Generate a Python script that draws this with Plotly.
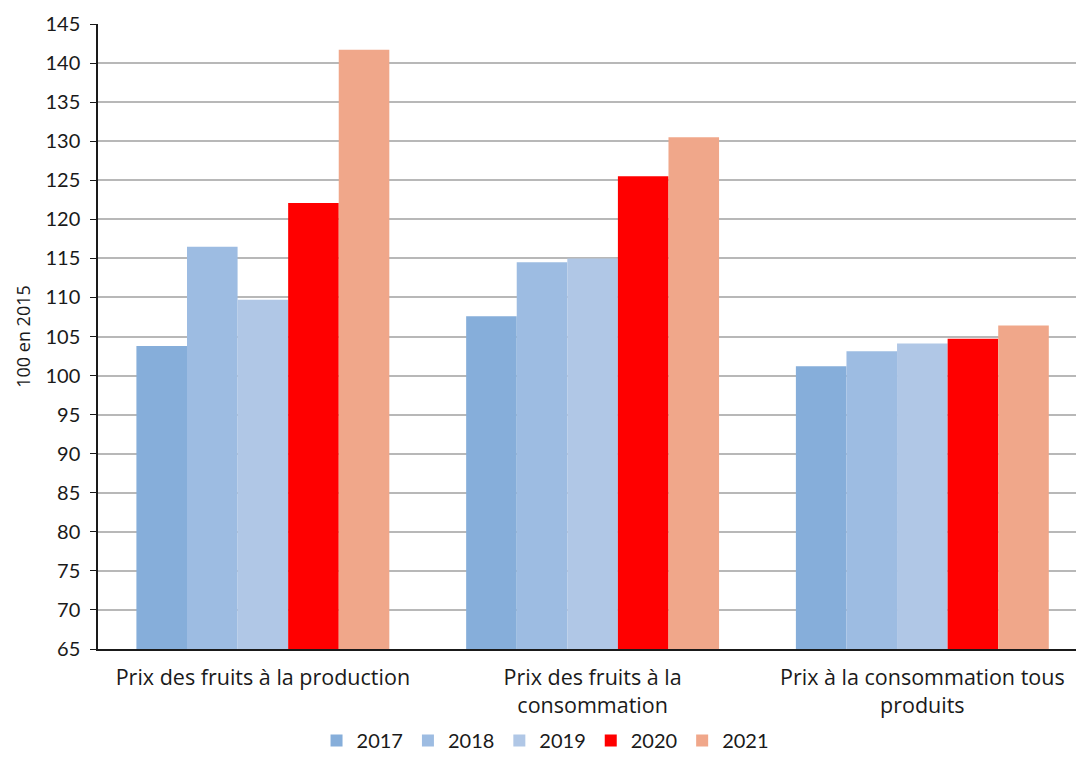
import plotly.graph_objects as go

# Indices des prix (base 100 en 2015)
categories = [
    "Prix des fruits à la production",
    "Prix des fruits à la<br>consommation",
    "Prix à la consommation tous<br>produits",
]
years = ["2017", "2018", "2019", "2020", "2021"]
values_2017 = [103.8, 107.6, 101.2]
values_2018 = [116.5, 114.5, 103.1]
values_2019 = [109.7, 115.0, 104.1]
values_2020 = [122.1, 125.5, 104.7]
values_2021 = [141.7, 130.5, 106.4]
series = [values_2017, values_2018, values_2019, values_2020, values_2021]
colors = ["#86AEDA", "#9DBCE2", "#B0C7E6", "#FF0000", "#F0A78A"]

FONT = "Lato, 'Open Sans', sans-serif"
LABEL_FONT = "'Open Sans', Lato, sans-serif"

fig = go.Figure()
for year, vals, col in zip(years, series, colors):
    fig.add_trace(go.Bar(
        x=categories,
        y=vals,
        name=year,
        marker=dict(color=col, line=dict(width=0)),
    ))

fig.update_layout(
    width=1076,
    height=760,
    barmode="group",
    bargap=0.233,
    bargroupgap=0,
    plot_bgcolor="white",
    paper_bgcolor="white",
    margin=dict(l=98, r=0, t=24, b=111, autoexpand=False),
    font=dict(family=FONT, size=20, color="#1a1a1a"),
    legend=dict(
        orientation="h",
        x=0.507,
        xanchor="center",
        xref="container",
        y=0,
        yanchor="bottom",
        yref="container",
        font=dict(size=20),
        itemwidth=30,
        traceorder="normal",
    ),
    xaxis=dict(
        range=[-0.5, 2.466],
        showline=True,
        linecolor="#1a1a1a",
        linewidth=1.5,
        ticks="",
        tickfont=dict(size=21.5, family=LABEL_FONT),
        ticklabelstandoff=8,
        showgrid=False,
        automargin=False,
    ),
    yaxis=dict(
        range=[65, 145],
        dtick=5,
        showline=True,
        linecolor="#1a1a1a",
        linewidth=1.5,
        ticks="outside",
        ticklen=6,
        tickcolor="#1a1a1a",
        ticklabelstandoff=6,
        gridcolor="#B8B8B8",
        gridwidth=1.5,
        zeroline=False,
        automargin=False,
        tickfont=dict(size=20),
        title=dict(text="100 en 2015", font=dict(size=18, family=LABEL_FONT), standoff=10),
    ),
)

fig.write_html("out.html")
